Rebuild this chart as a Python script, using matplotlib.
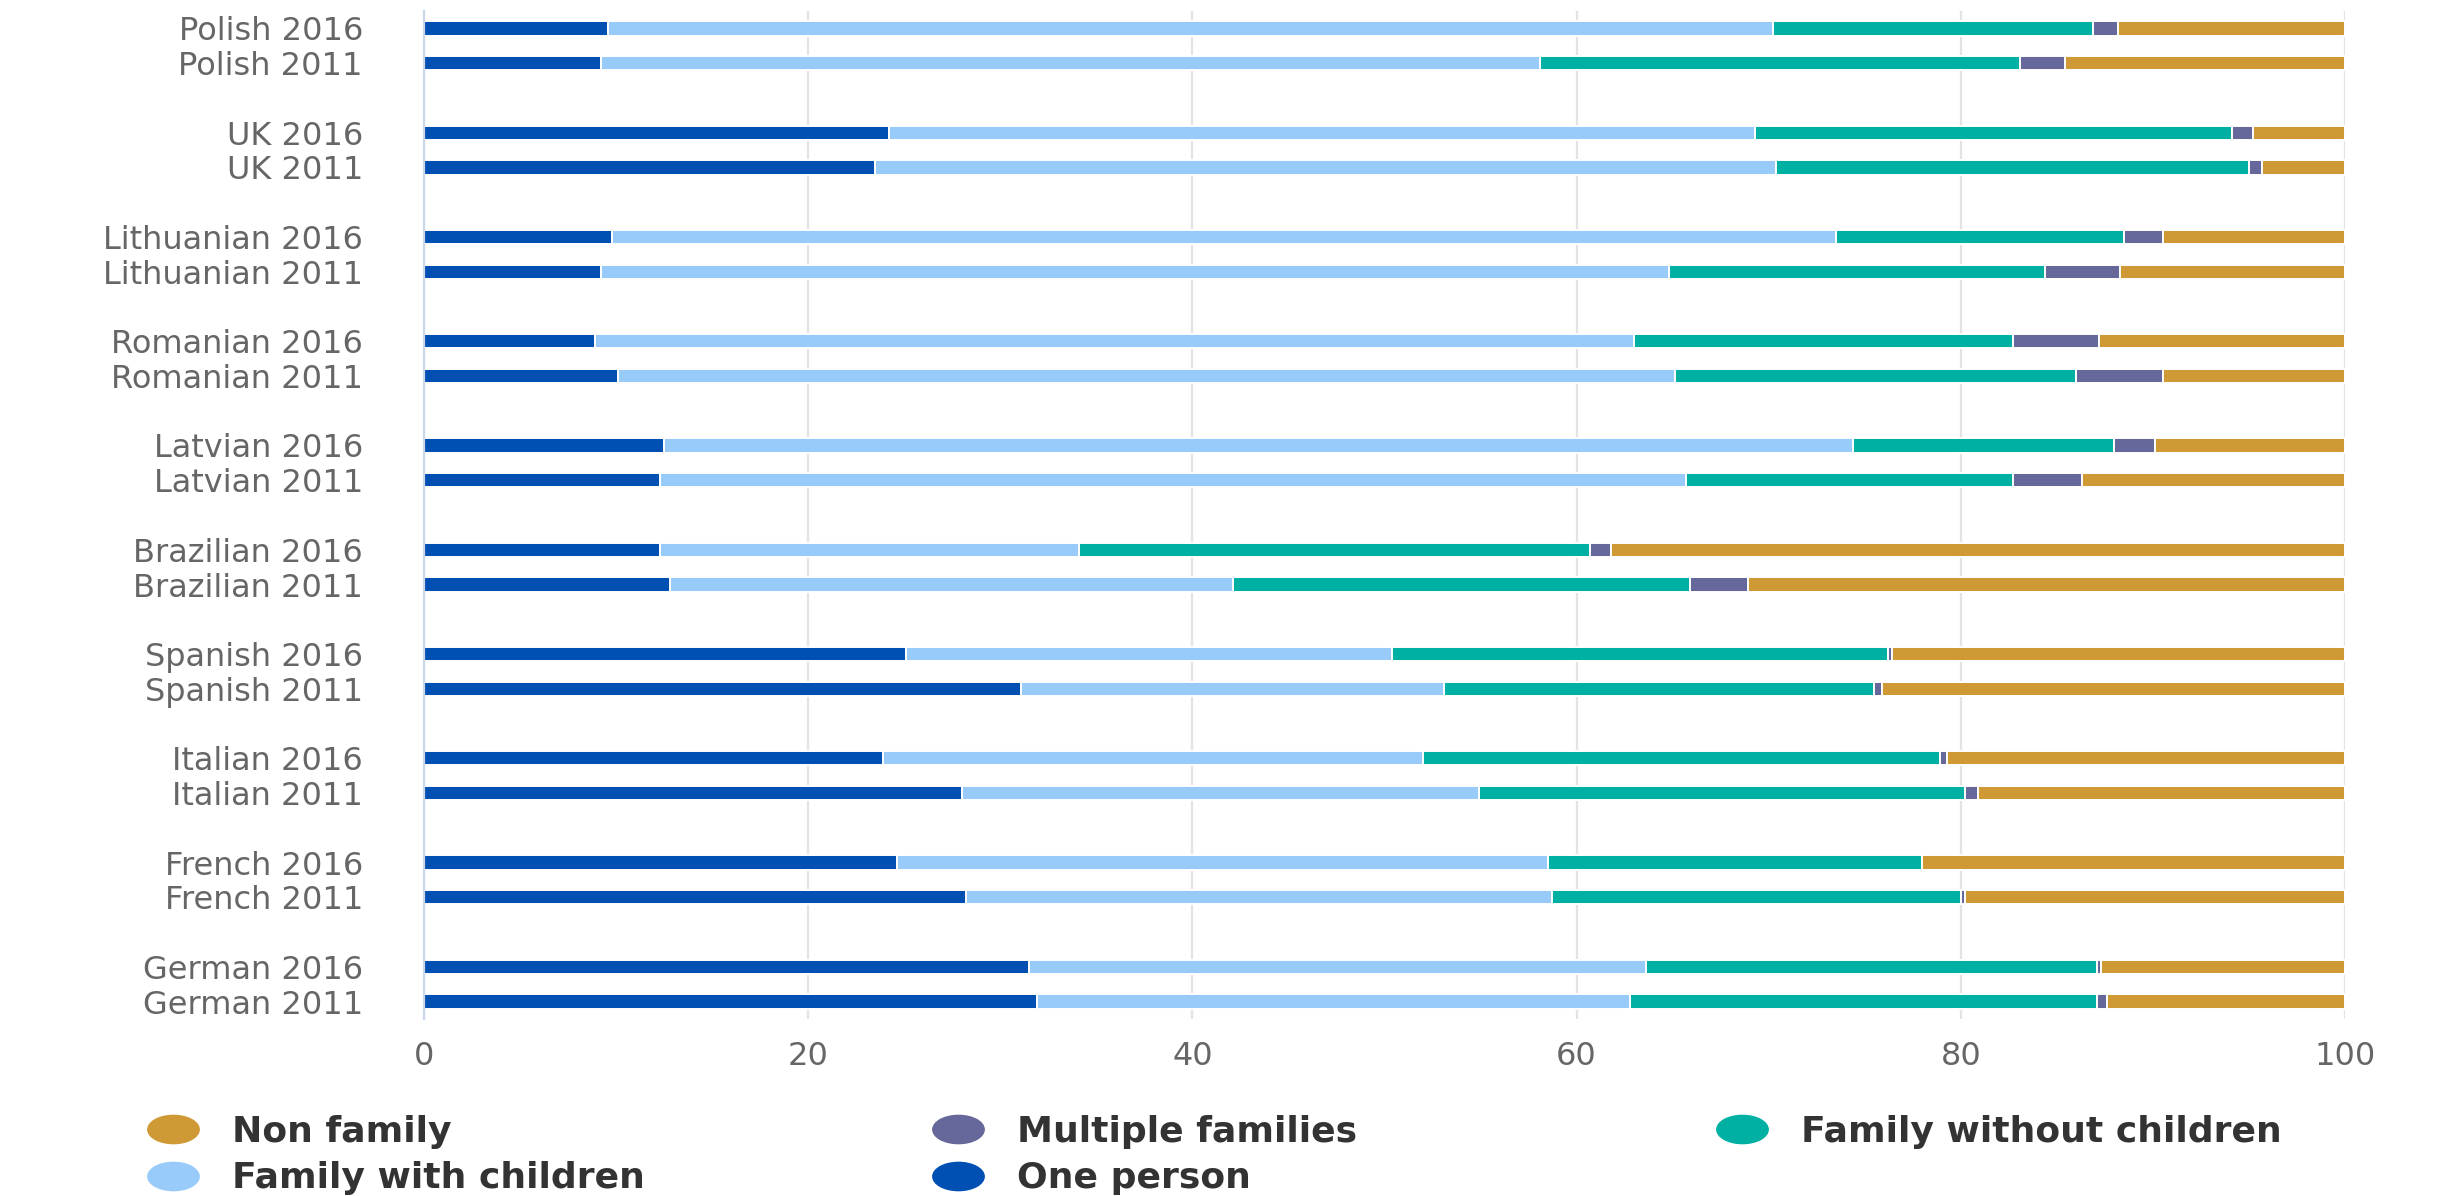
import matplotlib
matplotlib.use("Agg")
import matplotlib.pyplot as plt
from matplotlib.lines import Line2D
from matplotlib.path import Path
from matplotlib.transforms import Affine2D

# ---- data ----
nationalities = ["Polish", "UK", "Lithuanian", "Romanian", "Latvian",
                 "Brazilian", "Spanish", "Italian", "French", "German"]
years = ["2016", "2011"]

# values per nationality: [2016, 2011]
one_person = [[9.6, 9.2], [24.2, 23.5], [9.8, 9.2], [8.9, 10.1], [12.5, 12.3],
              [12.3, 12.8], [25.1, 31.1], [23.9, 28.0], [24.6, 28.2], [31.5, 31.9]]
family_with_children = [[60.6, 48.9], [45.1, 46.9], [63.7, 55.6], [54.1, 55.0], [61.9, 53.4],
                        [21.8, 29.3], [25.3, 22.0], [28.1, 26.9], [33.9, 30.5], [32.1, 30.9]]
family_without_children = [[16.7, 25.0], [24.8, 24.6], [15.0, 19.6], [19.7, 20.9], [13.6, 17.0],
                           [26.6, 23.8], [25.8, 22.4], [26.9, 25.3], [19.5, 21.3], [23.5, 24.3]]
multiple_families = [[1.3, 2.3], [1.1, 0.7], [2.0, 3.9], [4.5, 4.5], [2.1, 3.6],
                     [1.1, 3.0], [0.2, 0.4], [0.4, 0.7], [0.0, 0.2], [0.2, 0.5]]
non_family = [[11.8, 14.6], [4.8, 4.3], [9.5, 11.7], [12.8, 9.5], [9.9, 13.7],
              [38.2, 31.1], [23.6, 24.1], [20.7, 19.1], [22.0, 19.8], [12.7, 12.4]]

series_names = ["One person", "Family with children", "Family without children",
                "Multiple families", "Non family"]
series_values = [one_person, family_with_children, family_without_children,
                 multiple_families, non_family]
colors = {"One person": "#0050b4",
          "Family with children": "#99cbfa",
          "Family without children": "#00b1a3",
          "Multiple families": "#66679a",
          "Non family": "#cf9a35"}

# ---- layout of categories (with blank spacer slots) ----
positions, labels = [], []
for gi, nat in enumerate(nationalities):
    for yi, yr in enumerate(years):
        positions.append(gi * 3 + yi)
        labels.append(f"{nat} {yr}")
n_slots = 3 * len(nationalities) - 1

W, H = 2446, 1196
fig = plt.figure(figsize=(W / 100, H / 100), dpi=100)
ax = fig.add_axes([424 / W, 1 - 1019 / H, (2345 - 424) / W, (1019 - 11) / H])

left = [0.0] * len(positions)
for name, vals in zip(series_names, series_values):
    flat = [v for pair in vals for v in pair]
    ax.barh(positions, flat, left=left, height=0.41, color=colors[name],
            edgecolor="white", linewidth=1.4, zorder=3)
    left = [l + v for l, v in zip(left, flat)]

ax.set_xlim(0, 100)
ax.set_ylim(n_slots - 0.5, -0.5)
ax.set_xticks([0, 20, 40, 60, 80, 100])
ax.set_yticks(positions)
ax.set_yticklabels(labels)
ax.tick_params(axis="y", length=0, pad=44, labelsize=23, labelcolor="#666666")
ax.tick_params(axis="x", length=0, pad=16, labelsize=23, labelcolor="#666666")
ax.grid(axis="x", color="#e3e3e3", linewidth=1.6, zorder=0)
for s in ["top", "right", "bottom"]:
    ax.spines[s].set_visible(False)
ax.spines["left"].set_color("#ccd6eb")
ax.spines["left"].set_linewidth(1.6)
ax.spines["left"].set_zorder(4)

# ---- legend (three columns placed like the original) ----
ellipse = Path.unit_circle().transformed(Affine2D().scale(1.82, 1.0))


def handle(name):
    return Line2D([], [], marker=ellipse, linestyle="", markersize=37,
                  color=colors[name])


legend_cols = [["Non family", "Family with children"],
               ["Multiple families", "One person"],
               ["Family without children"]]
col_x = [147, 932, 1716]
for names, x0 in zip(legend_cols, col_x):
    yc = (1132 + 1178) / 2 if len(names) == 2 else 1132
    leg = fig.legend([handle(n) for n in names], names, loc="center left",
                     bbox_to_anchor=(x0 / W, 1 - yc / H), frameon=False,
                     borderpad=0, borderaxespad=0, handlelength=1.42,
                     handletextpad=0.94, labelspacing=0.34,
                     prop={"size": 26, "weight": "bold"})
    for t in leg.get_texts():
        t.set_color("#333333")

fig.savefig("out.png", dpi=100, facecolor="white")
